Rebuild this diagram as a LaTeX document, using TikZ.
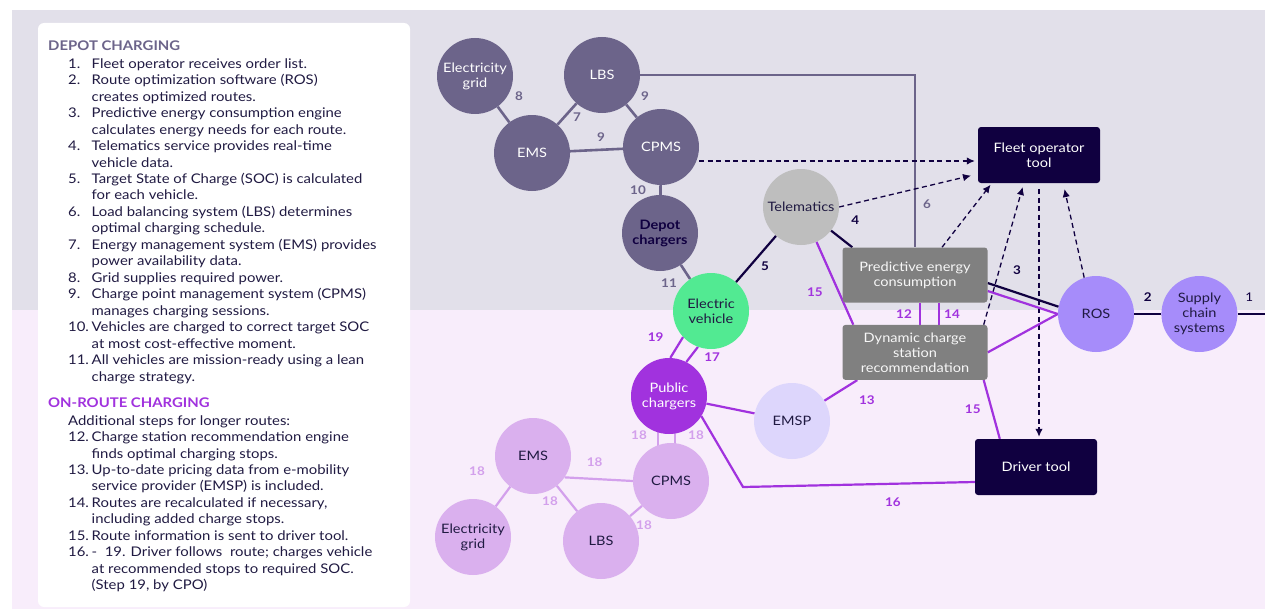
\documentclass[tikz,border=0pt]{standalone}
\usepackage{fontspec}
\setmainfont{Lato}[FakeStretch=1.12]
\usepackage{tikz}
\usetikzlibrary{arrows.meta, positioning, calc}
\definecolor{bggray}{RGB}{226,224,234}
\definecolor{bgpink}{RGB}{248,237,251}
\definecolor{depot}{RGB}{108,100,138}
\definecolor{navy}{RGB}{16,0,64}
\definecolor{evgreen}{RGB}{82,234,146}
\definecolor{telgray}{RGB}{190,190,190}
\definecolor{boxgray}{RGB}{128,128,128}
\definecolor{rosviolet}{RGB}{166,140,250}
\definecolor{pubviolet}{RGB}{161,50,222}
\definecolor{emsplilac}{RGB}{221,214,252}
\definecolor{orchid}{RGB}{218,176,238}
\definecolor{orchidln}{RGB}{211,160,236}
\definecolor{inknavy}{RGB}{32,26,66}
\pgfdeclarelayer{bg}
\pgfdeclarelayer{edges}
\pgfsetlayers{bg,edges,main}
\newcommand{\nodefont}{\fontsize{13}{15}\selectfont}
\newcommand{\lblfont}{\fontsize{12}{12}\selectfont\bfseries}

\begin{document}
\begin{tikzpicture}[x=1pt, y=-1pt,
    dn/.style={circle, fill=depot, text=white, inner sep=0pt, minimum size=76pt, font=\nodefont, align=center},
    evn/.style={dn, fill=evgreen, text=inknavy},
    teln/.style={dn, fill=telgray, text=inknavy},
    rosn/.style={dn, fill=rosviolet, text=inknavy},
    pubn/.style={dn, fill=pubviolet, text=white},
    emspn/.style={dn, fill=emsplilac, text=inknavy},
    orn/.style={dn, fill=orchid, text=inknavy},
    gbox/.style={rectangle, rounded corners=3pt, fill=boxgray, text=white!94!gray, minimum width=145pt, minimum height=55pt, inner sep=2pt, font=\nodefont, align=center},
    nbox/.style={gbox, fill=navy, text=white, minimum width=122pt, minimum height=56pt},
    dl/.style={draw=depot, line width=2.6pt},
    nl/.style={draw=navy, line width=2.2pt},
    pl/.style={draw=pubviolet, line width=2.2pt},
    ol/.style={draw=orchidln, line width=2.2pt},
    da/.style={draw=navy, line width=1.3pt, dash pattern=on 5pt off 3.5pt, -{Latex[length=8pt, width=7.5pt]}},
    dlbl/.style={text=depot, font=\lblfont, inner sep=0pt},
    nlbl/.style={dlbl, text=navy},
    plbl/.style={dlbl, text=pubviolet},
    olbl/.style={dlbl, text=orchidln},
  ]
  \useasboundingbox (0,0) rectangle (1270,610);
  \begin{pgfonlayer}{bg}
    \fill[bggray] (12,10) rectangle (1265,310);
    \fill[bgpink] (12,310) rectangle (1265,609);
    \fill[white, rounded corners=6pt] (38,23) rectangle (410,607);
  \end{pgfonlayer}

  % list of steps
  \node[anchor=north west, inner sep=0pt, text=inknavy, font=\fontsize{13.3}{16.47}\selectfont] (steps) at (48,38.5) {%
    \begin{tabular}{@{}p{20pt}@{}p{23.5pt}@{}l@{}}
    \multicolumn{3}{@{}l@{}}{\textcolor{depot}{\bfseries DEPOT CHARGING}}\\[1.5pt]
    & 1. & Fleet operator receives order list.\\
    & 2. & Route optimization software (ROS)\\
    & & creates optimized routes.\\
    & 3. & Predictive energy consumption engine\\
    & & calculates energy needs for each route.\\
    & 4. & Telematics service provides real-time\\
    & & vehicle data.\\
    & 5. & Target State of Charge (SOC) is calculated\\
    & & for each vehicle.\\
    & 6. & Load balancing system (LBS) determines\\
    & & optimal charging schedule.\\
    & 7. & Energy management system (EMS) provides\\
    & & power availability data.\\
    & 8. & Grid supplies required power.\\
    & 9. & Charge point management system (CPMS)\\
    & & manages charging sessions.\\
    & 10. & Vehicles are charged to correct target SOC\\
    & & at most cost-effective moment.\\
    & 11. & All vehicles are mission-ready using a lean\\
    & & charge strategy.\\[9.5pt]
    \multicolumn{3}{@{}l@{}}{\textcolor{pubviolet}{\bfseries ON-ROUTE CHARGING}}\\[1.5pt]
    & \multicolumn{2}{@{}l@{}}{Additional steps for longer routes:}\\
    & 12. & Charge station recommendation engine\\
    & & finds optimal charging stops.\\
    & 13. & Up-to-date pricing data from e-mobility\\
    & & service provider (EMSP) is included.\\
    & 14. & Routes are recalculated if necessary,\\
    & & including added charge stops.\\
    & 15. & Route information is sent to driver tool.\\
    & 16. & -\ \ 19. Driver follows\ \ route; charges vehicle\\
    & & at recommended stops to required SOC.\\
    & & (Step 19, by CPO)
    \end{tabular}};

  % depot charging
  \node[dn] (egT) at (475,76) {Electricity\\grid};
  \node[dn] (lbsT) at (602,75) {LBS};
  \node[dn] (emsT) at (532,153) {EMS};
  \node[dn] (cpmsT) at (661,147) {CPMS};
  \node[dn, text=navy, font=\nodefont\bfseries] (dep) at (660,233) {Depot\\chargers};
  \node[evn] (ev) at (711,311) {Electric\\vehicle};
  \node[teln] (tel) at (801,207) {Telematics};
  \node[gbox] (pred) at (915,275) {Predictive energy\\consumption};
  \node[gbox, below=22pt of pred] (dyn) {Dynamic charge\\station\\recommendation};
  \node[nbox] (fleet) at (1039,155) {Fleet operator\\tool};
  \node[nbox] (drv) at (1036,467) {Driver tool};
  \node[rosn] (ros) at (1096,314) {ROS};
  \node[rosn, right=27pt of ros] (sup) {Supply\\chain\\systems};
  \coordinate (chainend) at (1265,314);

  % on-route charging
  \node[pubn] (pub) at (669,396) {Public\\chargers};
  \node[emspn] (emsp) at (792,421) {EMSP};
  \node[orn] (emsB) at (533,456) {EMS};
  \node[orn] (cpmsB) at (671,481) {CPMS};
  \node[orn] (egB) at (473,537) {Electricity\\grid};
  \node[orn] (lbsB) at (601,541) {LBS};
  \coordinate (bend) at (743,487);

  \begin{pgfonlayer}{edges}
    \draw[dl] (egT) -- node[dlbl, xshift=15.5pt, yshift=18.5pt]{8} (emsT);
    \draw[dl] (emsT) -- node[dlbl, xshift=10pt, yshift=-3pt]{7} (lbsT);
    \draw[dl] (emsT) -- node[dlbl, xshift=4.5pt, yshift=13pt]{9} (cpmsT);
    \draw[dl] (lbsT) -- node[dlbl, xshift=13.5pt, yshift=15pt]{9} (cpmsT);
    \draw[dl] (cpmsT) -- node[dlbl, xshift=-22.5pt]{10} (dep);
    \draw[dl] (dep) -- node[dlbl, xshift=-16.5pt, yshift=-11pt]{11} (ev);
    \draw[dl] (lbsT) -- (lbsT -| pred.north) -- node[dlbl, pos=.75, xshift=12pt]{6} (pred.north);

    \draw[da, shorten >=3pt] ([yshift=-14pt]cpmsT.east) -- ([yshift=-6pt]fleet.west);
    \draw[da, shorten >=7pt] (tel.east) -- ([yshift=-19pt]fleet.west);
    \draw[da, shorten >=2pt] ([xshift=27pt]pred.north) -- ([xshift=14pt]fleet.south west);
    \draw[da, shorten >=4pt] ([xshift=-4pt]dyn.north east) -- ([xshift=46pt]fleet.south west);
    \draw[da, shorten <=6pt, shorten >=2pt] (fleet.south) -- (fleet.south |- drv.north);
    \draw[da, shorten >=6pt] (ros.108) -- ([xshift=-37pt]fleet.south east);

    \draw[nl] (ev) -- node[nlbl, xshift=9pt, yshift=-7pt]{5} (tel);
    \draw[nl] (tel) -- node[nlbl, xshift=13.5pt, yshift=18.5pt]{4} ([xshift=10pt]pred.north west);
    \draw[nl] ([yshift=-8pt]pred.east) -- node[nlbl, xshift=-6pt, yshift=25pt]{3} (ros.169);
    \draw[nl] (ros) -- node[nlbl, yshift=17pt]{2} (sup);
    \draw[nl] (sup) -- node[nlbl, font=\fontsize{12}{12}\selectfont, xshift=-2pt, yshift=17pt]{1} (chainend);

    \draw[pl] ([yshift=-16pt]pred.east) -- (ros.west);
    \draw[pl] (dyn.east) -- (ros.west);
    \draw[pl] ([xshift=5pt]pred.south) -- node[plbl, xshift=-16pt]{12} ([xshift=5pt]dyn.north);
    \draw[pl] ([xshift=24pt]pred.south) -- node[plbl, xshift=13pt]{14} ([xshift=24pt]dyn.north);
    \draw[pl] (tel) -- node[plbl, xshift=-20pt, yshift=-9pt]{15} ([xshift=11pt]dyn.north west);
    \draw[pl] ([xshift=-4pt]dyn.south east) -- node[plbl, xshift=-19pt]{15} ([xshift=25pt]drv.north west);
    \draw[pl] (emsp) -- node[plbl, xshift=26pt, yshift=-10pt]{13} ([xshift=15pt]dyn.south west);
    \draw[pl] (pub) -- (emsp);
    \draw[pl] (pub.328) -- (bend) -- node[plbl, xshift=34pt, yshift=-17.5pt]{16} ([yshift=-15pt]drv.west);
    \draw[pl] (ev.223) -- node[plbl, xshift=-21pt, yshift=10.5pt]{19} (pub.88);
    \draw[pl] (ev.250) -- node[plbl, xshift=20pt, yshift=-2.6pt]{17} (pub.63);

    \draw[ol] ([xshift=-11pt]pub.center) -- node[olbl, xshift=-19pt, yshift=3.5pt]{18} ([xshift=-11pt]pub.center |- cpmsB.center);
    \draw[ol] ([xshift=6pt]pub.center) -- node[olbl, xshift=21pt, yshift=3.5pt]{18} ([xshift=6pt]pub.center |- cpmsB.center);
    \draw[ol] (emsB.326) -- node[olbl, xshift=-4pt, yshift=17pt]{18} (cpmsB.west);
    \draw[ol] (emsB) -- node[olbl, xshift=-26pt, yshift=25.5pt]{18} (egB);
    \draw[ol] (emsB) -- node[olbl, xshift=-17pt, yshift=-2.5pt]{18} (lbsB);
    \draw[ol] (lbsB) -- node[olbl, xshift=8pt, yshift=-14pt]{18} (cpmsB);
  \end{pgfonlayer}
\end{tikzpicture}
\end{document}
